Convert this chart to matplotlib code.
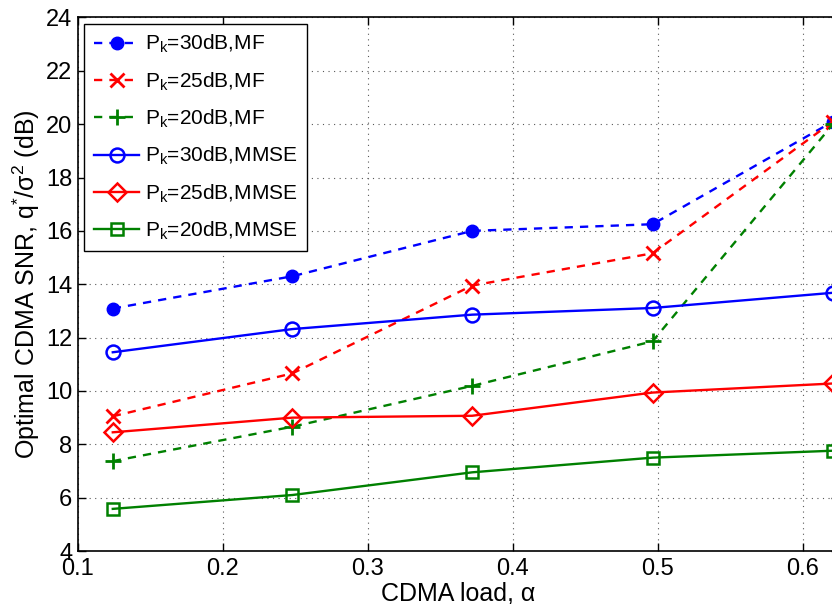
import matplotlib
matplotlib.use("Agg")
import matplotlib.pyplot as plt

plt.rcParams['font.family'] = ['Liberation Sans', 'DejaVu Sans']
plt.rcParams['mathtext.fontset'] = 'custom'
plt.rcParams['mathtext.rm'] = 'Liberation Sans'
plt.rcParams['mathtext.it'] = 'Liberation Sans:italic'
plt.rcParams['mathtext.bf'] = 'Liberation Sans:bold'

# Data
alpha = [0.124, 0.248, 0.372, 0.4965, 0.621]
mf_30 = [13.09, 14.3, 16.0, 16.25, 20.1]
mf_25 = [9.05, 10.66, 13.95, 15.16, 20.1]
mf_20 = [7.37, 8.66, 10.19, 11.86, 20.0]
mmse_30 = [11.45, 12.32, 12.86, 13.11, 13.68]
mmse_25 = [8.45, 9.0, 9.07, 9.94, 10.28]
mmse_20 = [5.58, 6.1, 6.95, 7.5, 7.76]
labels = [r'P$_\mathregular{k}$=30dB,MF', r'P$_\mathregular{k}$=25dB,MF',
          r'P$_\mathregular{k}$=20dB,MF', r'P$_\mathregular{k}$=30dB,MMSE',
          r'P$_\mathregular{k}$=25dB,MMSE', r'P$_\mathregular{k}$=20dB,MMSE']
xticks = [0.1, 0.2, 0.3, 0.4, 0.5, 0.6]
yticks = [4, 6, 8, 10, 12, 14, 16, 18, 20, 22, 24]

blue = (0, 0, 1)
red = (1, 0, 0)
green = (0, 0.5, 0)

fig = plt.figure(figsize=(8.32, 6.04), dpi=100)
ax = fig.add_axes([0.09375, 0.0877, 0.9144, 0.8834])

lw = 1.7
dash = (0, (3.5, 3))
ax.plot(alpha, mf_30, linestyle=dash, color=blue, lw=lw, marker='o',
        ms=9, mfc=blue, mec=blue, label=labels[0], clip_on=False)
ax.plot(alpha, mf_25, linestyle=dash, color=red, lw=lw, marker='x',
        ms=10, mew=2, label=labels[1], clip_on=False)
ax.plot(alpha, mf_20, linestyle=dash, color=green, lw=lw, marker='+',
        ms=12, mew=2, label=labels[2], clip_on=False)
ax.plot(alpha, mmse_30, linestyle='-', color=blue, lw=lw, marker='o',
        ms=10, mfc='none', mec=blue, mew=1.8, label=labels[3], clip_on=False)
ax.plot(alpha, mmse_25, linestyle='-', color=red, lw=lw, marker='D',
        ms=9.5, mfc='none', mec=red, mew=1.8, label=labels[4], clip_on=False)
ax.plot(alpha, mmse_20, linestyle='-', color=green, lw=lw, marker='s',
        ms=8, mfc='none', mec=green, mew=1.8, label=labels[5], clip_on=False)

ax.set_xlim(0.1, 0.625)
ax.set_ylim(4, 24)
ax.set_xticks(xticks)
ax.set_yticks(yticks)
ax.set_xticklabels([str(t) for t in xticks])
ax.set_yticklabels([str(t) for t in yticks])
ax.tick_params(direction='in', top=True, right=True, length=6, width=1,
               labelsize=17)
ax.tick_params(axis='x', pad=5)
ax.tick_params(axis='y', pad=4)
for s in ax.spines.values():
    s.set_linewidth(1.2)
ax.grid(True, color='0.35', linestyle=(0, (1, 4)), linewidth=0.8)

ax.set_xlabel('CDMA load, α', fontsize=18, labelpad=1)
ax.set_ylabel(r'Optimal CDMA SNR, q$^{*}$/σ$^{2}$ (dB)', fontsize=18, labelpad=3)

leg = ax.legend(loc='upper left', fontsize=15, frameon=True, fancybox=False,
                edgecolor='black', framealpha=1, borderaxespad=0.3,
                handlelength=2.2, labelspacing=0.72, numpoints=1,
                borderpad=0.45, handletextpad=0.25)
leg.get_frame().set_linewidth(1.0)

fig.savefig('out.png', dpi=100)
